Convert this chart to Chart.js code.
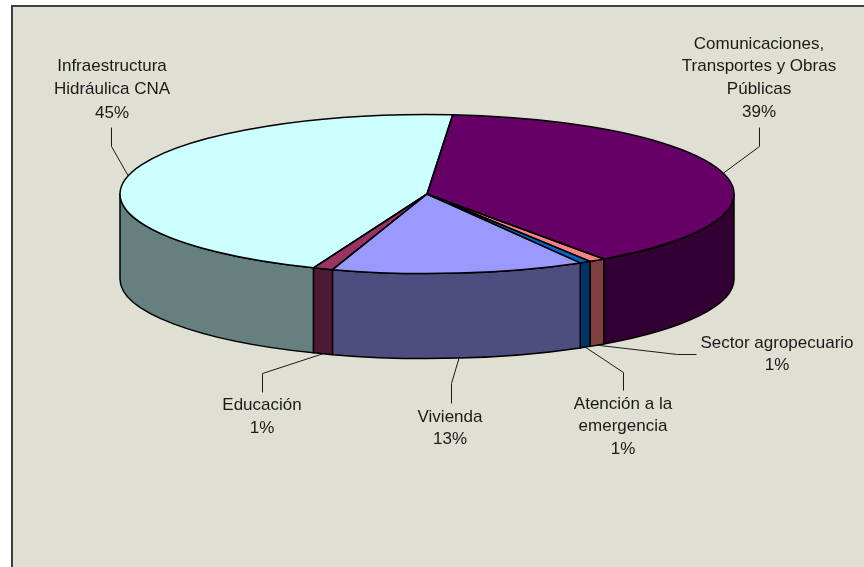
<!DOCTYPE html>
<html>
<head>
<meta charset="utf-8">
<title>Inversión por sector</title>
<script src="https://cdn.jsdelivr.net/npm/chart.js@4"></script>
<style>
  html, body { margin: 0; padding: 0; background: #fff; }
  canvas { display: block; }
</style>
</head>
<body>
<canvas id="pie" width="864" height="567"></canvas>
<script>
var categories = [
  'Comunicaciones,\nTransportes y Obras\nPúblicas',
  'Sector agropecuario',
  'Atención a la\nemergencia',
  'Vivienda',
  'Educación',
  'Infraestructura\nHidráulica CNA'
]
// shares, in percent
var shares = [38.9, 0.85, 0.6, 13.3, 1.05, 45.3]
var topColors = ['#660066', '#FF8080', '#0066CC', '#9999FF', '#993366', '#CCFFFF']
var wallColors = ['#330033', '#804040', '#003366', '#4D4D80', '#4D1A33', '#668080']

// where each label sits: centre x, first line mid y, leader elbow
var labelSpots = [
  { x: 759, y: 44, gap: 22.8, from: [759, 127], elbow: [759, 146] },
  { x: 777, y: 343, gap: 22, from: [696, 354], elbow: [677, 354] },
  { x: 623, y: 404, gap: 22.5, from: [623, 390], elbow: [623, 372] },
  { x: 450, y: 417, gap: 22.5, from: [451, 403], elbow: [451, 383] },
  { x: 262, y: 405, gap: 23, from: [262, 392], elbow: [262, 373] },
  { x: 112, y: 66, gap: 23.5, from: [111, 127], elbow: [111, 146] }
]

var centerX = 427
var centerY = 194
var radiusX = 307
var radiusY = 79.5
var depth = 85

function clampFront(a0, a1) {
  // only the part of a slice facing the viewer has a wall
  var tau = Math.PI * 2
  while (a1 > tau) { a0 -= tau; a1 -= tau }
  var s = Math.max(a0, 0)
  var e = Math.min(a1, Math.PI)
  return e > s ? [s, e] : null
}

var pie3d = {
  id: 'pie3d',
  beforeDraw: function (chart) {
    var ctx = chart.ctx
    ctx.save()
    ctx.fillStyle = '#fff'
    ctx.fillRect(0, 0, chart.width, chart.height)
    ctx.fillStyle = '#E0DFD3'
    ctx.fillRect(12, 6, chart.width - 12, chart.height - 6)
    ctx.fillStyle = '#404040'
    ctx.fillRect(11, 5, chart.width - 11, 2)
    ctx.fillRect(11, 5, 2, chart.height - 5)
    ctx.restore()
  },
  beforeDatasetsDraw: function (chart) {
    var ctx = chart.ctx
    var arcs = chart.getDatasetMeta(0).data
    ctx.save()
    ctx.lineWidth = 1.5
    ctx.lineJoin = 'round'
    ctx.strokeStyle = '#000'
    arcs.forEach(function (arc, i) {
      var front = clampFront(arc.startAngle, arc.endAngle)
      if (!front) return
      ctx.beginPath()
      ctx.ellipse(centerX, centerY, radiusX, radiusY, 0, front[0], front[1])
      ctx.lineTo(centerX + radiusX * Math.cos(front[1]), centerY + depth + radiusY * Math.sin(front[1]))
      ctx.ellipse(centerX, centerY + depth, radiusX, radiusY, 0, front[1], front[0], true)
      ctx.closePath()
      ctx.fillStyle = wallColors[i]
      ctx.fill()
      ctx.stroke()
    })
    ctx.restore()
    // squash the library's own slices into the top face
    var first = arcs[0]
    ctx.save()
    ctx.translate(centerX, centerY)
    ctx.scale(1, radiusY / first.outerRadius)
    ctx.translate(-first.x, -first.y)
  },
  afterDatasetsDraw: function (chart) {
    var ctx = chart.ctx
    ctx.restore()
    var arcs = chart.getDatasetMeta(0).data
    var total = shares.reduce(function (a, b) { return a + b }, 0)

    ctx.save()
    ctx.lineWidth = 1.5
    ctx.lineJoin = 'round'
    ctx.strokeStyle = '#000'
    arcs.forEach(function (arc) {
      ctx.beginPath()
      ctx.moveTo(centerX, centerY)
      ctx.ellipse(centerX, centerY, radiusX, radiusY, 0, arc.startAngle, arc.endAngle)
      ctx.closePath()
      ctx.stroke()
    })

    ctx.lineWidth = 1
    ctx.strokeStyle = '#1a1a1a'
    ctx.fillStyle = '#1a1a1a'
    ctx.font = '17px "Liberation Sans"'
    ctx.textAlign = 'center'
    ctx.textBaseline = 'middle'
    arcs.forEach(function (arc, i) {
      var spot = labelSpots[i]
      var mid = (arc.startAngle + arc.endAngle) / 2
      var ax = centerX + radiusX * Math.cos(mid)
      var ay = centerY + radiusY * Math.sin(mid) + (Math.sin(mid) > 0 ? depth : 0)
      ctx.beginPath()
      ctx.moveTo(spot.from[0] + 0.5, spot.from[1] + 0.5)
      ctx.lineTo(spot.elbow[0] + 0.5, spot.elbow[1] + 0.5)
      ctx.lineTo(ax, ay)
      ctx.stroke()

      var lines = categories[i].split('\n')
      lines.push(Math.round(shares[i] / total * 100) + '%')
      lines.forEach(function (line, n) {
        ctx.fillText(line, spot.x, spot.y + n * spot.gap)
      })
    })
    ctx.restore()
  }
}

new Chart(document.getElementById('pie'), {
  type: 'pie',
  data: {
    labels: categories,
    datasets: [{
      data: shares,
      backgroundColor: topColors,
      borderWidth: 0,
      clip: false
    }]
  },
  options: {
    responsive: false,
    animation: false,
    rotation: 4.8,
    radius: radiusX,
    plugins: {
      legend: { display: false },
      tooltip: { enabled: false }
    }
  },
  plugins: [pie3d]
})
</script>
</body>
</html>
